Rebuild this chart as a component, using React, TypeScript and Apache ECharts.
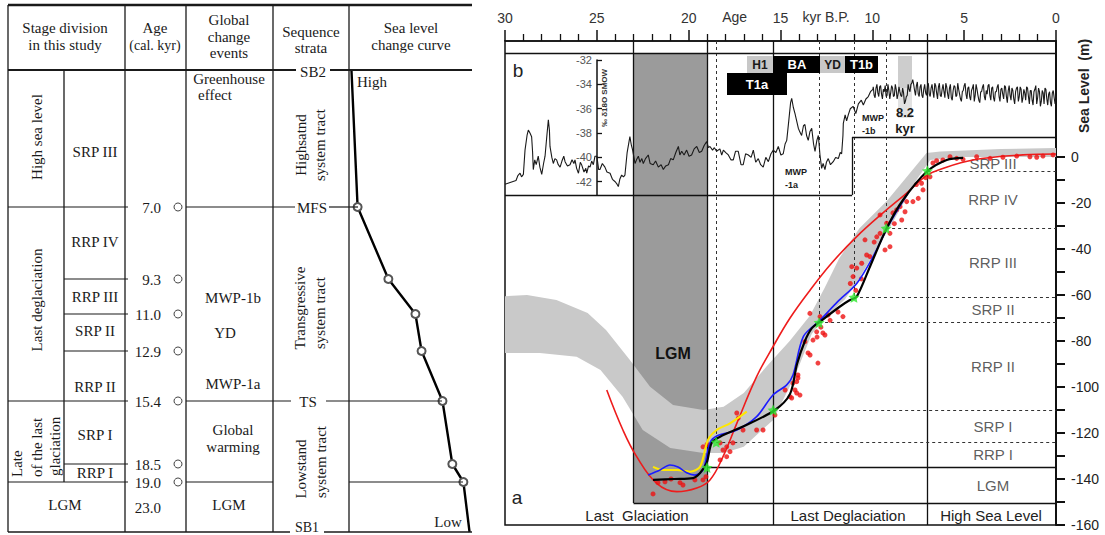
import React, { useEffect, useRef } from "react";
import * as echarts from "echarts";

const SERIF = "'Liberation Serif', 'Times New Roman', serif";
const SANS = "'Liberation Sans', Arial, Helvetica, sans-serif";
const ROT = Math.PI / 2;

// ================= Left panel: stage table =================
const tableAges = ["7.0", "9.3", "11.0", "12.9", "15.4", "18.5", "19.0"];
const curveStages = ["SB2", "7.0", "9.3", "11.0", "12.9", "15.4", "18.5", "19.0", "SB1"];
// relative sea level (1 = high, 0 = low) at each stage boundary
const curveLevel = [0.98, 0.93, 0.68, 0.46, 0.41, 0.24, 0.16, 0.07, 0.02];

// ================= Right panel data =================
const ageAxisLabels = [30, 25, 20, 15, 10, 5, 0];
const seaLevelLabels = [-160, -140, -120, -100, -80, -60, -40, -20, 0];
const seaLevelTicks = [-160, -150, -140, -130, -120, -110, -100, -90, -80, -70, -60, -50, -40, -30, -20, -10, 0];
const d18OLabels = [-42, -40, -38, -36, -34, -32];

// stage boundaries (kyr BP) and sea levels (m)
const boundaryAges = [7.0, 9.25, 11.0, 12.9, 15.4, 18.5, 19.0, 23.0];
const boundaryLevels = [-6, -31, -61, -72, -110, -124, -135, -150.4];
const stageNames = ["SRP III", "RRP IV", "RRP III", "SRP II", "RRP II", "SRP I", "RRP I", "LGM"];

// GISP2-like δ18O record [age kyr, ‰]
const d18O: [number, number][] = [
  [30.0, -42.2], [29.8, -42.1], [29.6, -42.0], [29.4, -41.9], [29.3, -41.5], [29.18, -41.3], [29.1, -41.6], [29.0, -41.4],
  [28.91, -39.4], [28.8, -38.2], [28.73, -37.75], [28.64, -38.0], [28.55, -38.3], [28.5, -39.5], [28.46, -41.0], [28.38, -40.2],
  [28.3, -40.6], [28.19, -39.9], [28.1, -40.8], [28.0, -41.4], [27.9, -40.5], [27.82, -39.9], [27.72, -38.2], [27.64, -36.9],
  [27.58, -37.8], [27.55, -39.1], [27.45, -40.0], [27.37, -40.5], [27.28, -40.1], [27.19, -40.2], [27.1, -40.6], [27.0, -40.8],
  [26.9, -40.3], [26.8, -39.9], [26.73, -40.35], [26.6, -40.7], [26.46, -40.6], [26.35, -40.2], [26.25, -40.5], [26.19, -40.2],
  [26.1, -40.9], [26.0, -41.3], [25.9, -40.4], [25.83, -40.6], [25.7, -41.2], [25.6, -40.9], [25.55, -41.3], [25.45, -40.7],
  [25.37, -40.8], [25.28, -40.3], [25.19, -40.6], [25.1, -39.9], [25.0, -39.9], [24.9, -41.0], [24.83, -41.0], [24.7, -40.5],
  [24.56, -40.8], [24.45, -41.2], [24.28, -41.3], [24.15, -41.8], [24.0, -42.0], [23.9, -42.2], [23.83, -42.4], [23.75, -41.8],
  [23.65, -41.45], [23.55, -41.6], [23.47, -41.45], [23.35, -39.6], [23.2, -38.3], [23.12, -39.0], [23.05, -39.4], [22.98, -40.0],
  [22.92, -40.5], [22.84, -40.2], [22.74, -39.9], [22.65, -40.4], [22.55, -40.1], [22.47, -40.5], [22.35, -40.1], [22.2, -39.8],
  [22.1, -40.5], [21.93, -40.6], [21.8, -40.3], [21.65, -40.8], [21.5, -40.6], [21.38, -41.0], [21.25, -40.7], [21.1, -40.6],
  [20.98, -40.1], [20.84, -40.2], [20.7, -39.6], [20.56, -39.1], [20.48, -39.8], [20.38, -39.5], [20.25, -39.8], [20.11, -39.4],
  [19.98, -39.9], [19.84, -39.8], [19.7, -39.3], [19.56, -39.1], [19.42, -39.6], [19.29, -39.5], [19.15, -39.0], [19.02, -38.7],
  [18.92, -39.2], [18.84, -39.1], [18.7, -39.4], [18.6, -39.2], [18.48, -39.5], [18.3, -39.3], [18.2, -39.8], [18.11, -39.4],
  [17.98, -39.6], [17.84, -39.8], [17.7, -40.2], [17.57, -40.2], [17.45, -39.5], [17.3, -39.5], [17.15, -40.6], [17.03, -40.6],
  [16.9, -39.7], [16.75, -39.8], [16.6, -40.0], [16.48, -39.4], [16.35, -40.4], [16.21, -40.1], [16.08, -40.6], [15.94, -40.8],
  [15.8, -40.0], [15.66, -40.35], [15.52, -39.7], [15.39, -39.4], [15.25, -39.6], [15.12, -39.1], [14.98, -39.8], [14.85, -39.7],
  [14.75, -38.9], [14.66, -38.6], [14.55, -37.0], [14.45, -35.5], [14.39, -35.15], [14.3, -35.9], [14.21, -36.4], [14.12, -37.0],
  [14.03, -37.6], [13.95, -37.9], [13.85, -38.2], [13.75, -37.4], [13.67, -37.3], [13.58, -38.2], [13.49, -38.6], [13.4, -37.9],
  [13.3, -37.6], [13.2, -38.9], [13.12, -39.5], [13.02, -38.6], [12.94, -38.2], [12.85, -39.8], [12.76, -40.9], [12.68, -40.5],
  [12.58, -41.0], [12.5, -40.4], [12.4, -40.1], [12.28, -40.6], [12.13, -40.35], [12.0, -40.0], [11.85, -40.1], [11.75, -39.6],
  [11.67, -39.7], [11.6, -38.2], [11.58, -37.2], [11.48, -36.5], [11.4, -37.0], [11.31, -36.5], [11.2, -36.0], [11.05, -35.8],
  [10.9, -36.4], [10.76, -35.6], [10.6, -35.3], [10.49, -35.7], [10.35, -35.2], [10.22, -35.0], [10.1, -34.6], [9.97, -34.4],
  [9.9, -34.9], [9.8, -34.3], [9.7, -34.7], [9.6, -34.2], [9.5, -34.8], [9.4, -34.4], [9.3, -34.1], [9.2, -34.9], [9.1, -34.5],
  [9.0, -34.7], [8.9, -34.3], [8.8, -34.9], [8.7, -34.4], [8.6, -34.8], [8.5, -34.6], [8.4, -35.0], [8.3, -34.7], [8.2, -35.4],
  [8.1, -34.9], [8.0, -34.4], [7.9, -34.0], [7.8, -33.6], [7.7, -34.5], [7.6, -34.1], [7.5, -34.8], [7.4, -34.2], [7.3, -34.9],
  [7.2, -34.4], [7.1, -34.7], [7.0, -34.1], [6.9, -34.8], [6.8, -34.3], [6.7, -34.6], [6.6, -33.9], [6.5, -34.7], [6.4, -34.2],
  [6.3, -34.9], [6.2, -34.4], [6.1, -34.6], [6.0, -33.9], [5.9, -34.8], [5.8, -34.3], [5.7, -35.1], [5.6, -34.5], [5.5, -34.2],
  [5.4, -34.9], [5.3, -34.4], [5.2, -35.2], [5.1, -34.6], [5.0, -34.1], [4.9, -34.8], [4.8, -34.3], [4.7, -35.0], [4.6, -34.5],
  [4.5, -34.0], [4.4, -34.9], [4.3, -34.4], [4.2, -35.3], [4.1, -34.6], [4.0, -34.2], [3.9, -35.0], [3.8, -34.5], [3.7, -34.1],
  [3.6, -34.9], [3.5, -34.3], [3.4, -35.1], [3.3, -34.6], [3.2, -34.2], [3.1, -35.0], [3.0, -34.4], [2.9, -34.8], [2.8, -34.1],
  [2.7, -35.0], [2.6, -34.5], [2.5, -34.9], [2.4, -34.3], [2.3, -35.2], [2.2, -34.6], [2.1, -34.2], [2.0, -35.0], [1.9, -34.4],
  [1.8, -35.1], [1.7, -34.7], [1.6, -34.2], [1.5, -35.0], [1.4, -34.5], [1.3, -35.3], [1.2, -34.6], [1.1, -34.1], [1.0, -35.1],
  [0.9, -34.6], [0.8, -35.4], [0.7, -34.7], [0.6, -34.3], [0.5, -35.2], [0.4, -34.8], [0.3, -35.5], [0.2, -34.7], [0.1, -35.1],
  [0.0, -34.9],
];
// additional high-resolution Holocene samples
const d18OHolocene: [number, number][] = [
  [9.95, -34.2], [9.85, -35.1], [9.75, -34.0], [9.65, -35.0], [9.55, -34.1], [9.45, -35.2], [9.35, -34.6], [9.25, -35.0],
  [9.15, -34.0], [9.05, -35.2], [8.95, -34.1], [8.85, -35.0], [8.75, -34.0], [8.65, -35.2], [8.55, -34.2], [8.45, -34.9],
  [8.35, -34.3], [8.25, -35.6], [8.15, -35.0], [8.05, -34.0], [7.95, -34.6], [7.85, -33.9], [7.75, -34.0], [7.65, -34.9],
  [7.55, -33.8], [7.45, -35.0], [7.35, -34.0], [7.25, -35.1], [7.15, -34.0], [7.05, -34.9], [6.95, -33.9], [6.85, -35.0],
  [6.75, -34.0], [6.65, -35.1], [6.55, -34.1], [6.45, -35.2], [6.35, -33.9], [6.25, -35.0], [6.15, -34.0], [6.05, -35.1],
  [5.95, -34.2], [5.85, -35.2], [5.75, -34.0], [5.65, -35.3], [5.55, -34.1], [5.45, -35.0], [5.35, -33.9], [5.25, -34.8],
  [5.15, -35.4], [5.05, -34.5], [4.95, -33.9], [4.85, -35.2], [4.75, -34.2], [4.65, -35.3], [4.55, -34.3], [4.45, -35.4],
  [4.35, -34.0], [4.25, -34.9], [4.15, -35.5], [4.05, -34.6], [3.95, -34.0], [3.85, -35.3], [3.75, -34.8], [3.65, -34.0],
  [3.55, -35.3], [3.45, -34.2], [3.35, -35.4], [3.25, -34.6], [3.15, -34.0], [3.05, -35.4], [2.95, -34.3], [2.85, -35.2],
  [2.75, -34.2], [2.65, -35.5], [2.55, -34.1], [2.45, -35.3], [2.35, -34.5], [2.25, -35.6], [2.15, -34.3], [2.05, -35.4],
  [1.95, -34.2], [1.85, -35.5], [1.75, -34.4], [1.65, -35.3], [1.55, -34.3], [1.45, -35.6], [1.35, -34.5], [1.25, -35.7],
  [1.15, -34.4], [1.05, -35.6], [0.95, -34.3], [0.85, -35.8], [0.75, -34.5], [0.65, -35.6], [0.55, -34.4], [0.45, -35.7],
  [0.35, -34.6], [0.25, -35.8], [0.15, -34.5], [0.05, -35.6],
];

// grey envelope of global sea-level records [age, m]
const bandUpper: [number, number][] = [
  [30, -60.5], [28.8, -60], [27.2, -62.2], [25.5, -67.8], [24.5, -75.2], [23.2, -88.3], [22.1, -99.9], [20.85, -107.8],
  [19.2, -110], [18.1, -108.6], [17.0, -102.6], [15.75, -91], [14.5, -80], [13.4, -69], [12.6, -57], [11.8, -44],
  [10.7, -31], [9.2, -19], [7.95, -7], [7.05, 1.7], [6.3, 2.4], [3.0, 3.5], [0, 3.9],
];
const bandLower: [number, number][] = [
  [30, -85.2], [28.1, -85.2], [26.1, -86.8], [24.8, -92.6], [23.6, -104.2], [22.5, -118.7], [21.0, -126.5], [19.2, -128.7],
  [18.1, -128.7], [17.0, -126], [15.4, -114.3], [14.2, -95], [13.3, -77], [12.6, -70], [11.5, -62], [10.8, -54],
  [10.0, -43], [9.0, -30], [7.6, -10], [6.85, -1.3], [5.2, 0], [0, 0],
];

// model sea-level curve (red line)
const modelCurve: [number, number][] = [
  [24.46, -101.3], [23.58, -118.7], [22.83, -130.3], [21.74, -141.9], [20.65, -145.5], [19.56, -143.9], [18.84, -140.4],
  [18.13, -130.3], [17.38, -115.8], [16.3, -95.5], [15.41, -82.5], [14.48, -70], [13.4, -58], [12.2, -46], [10.85, -34.6],
  [9.42, -24.3], [8.13, -15.7], [7.04, -8], [6.32, -5.4], [4.52, -1.3], [1.8, 0.9], [0, 1.3],
];
// this study (black line)
const studyCurve: [number, number][] = [
  [21.94, -140.4], [20.8, -140], [19.76, -139.6], [19.38, -137.4], [19.02, -133], [18.75, -124.3], [18.29, -121.6],
  [17.04, -117.2], [15.3, -110], [14.48, -103], [14.1, -90], [13.67, -80], [13.3, -74.5], [12.85, -71.6], [11.76, -65],
  [11.22, -62.2], [10.85, -60.7], [10.13, -47.7], [9.22, -31], [8.33, -18.7], [7.04, -6.4], [5.95, -1.3], [5.06, -0.4],
];
const blueCurve: [number, number][] = [
  [22.21, -138.3], [21.56, -136.1], [21.02, -133.9], [20.58, -134.8], [20.11, -137.3], [19.66, -138.3], [19.22, -136.1],
  [18.84, -124.3], [18.47, -121.3], [17.38, -118.7], [16.3, -112.9], [15.41, -103.5], [14.66, -99.1], [14.32, -94.8],
  [13.75, -78], [12.85, -71], [11.9, -63], [10.85, -55], [9.96, -43.3], [9.05, -28.8], [8.07, -15.8],
];
const yellowCurve: [number, number][] = [
  [21.94, -134.7], [21.4, -136.1], [20.64, -136.1], [19.93, -136.8], [19.38, -134.7], [18.95, -123], [18.47, -118.7],
  [17.75, -115.8], [16.84, -110.7],
];
// sea-level indicators (red dots)
const rslPoints: [number, number][] = [
  [21.94, -146.5], [21.67, -141.6], [21.29, -141.2], [20.96, -140], [20.47, -141.6], [20.31, -142.6], [19.66, -140.4],
  [19.22, -140.4], [19.06, -139], [18.29, -131.7], [18.13, -127.4], [19.22, -126], [19.0, -125], [18.29, -124.3],
  [17.93, -126], [17.59, -124.3], [17.75, -128.1], [17.93, -130.3], [17.38, -111.3], [17.3, -113.5], [17.04, -118.7],
  [16.3, -118.7], [15.95, -118.7], [15.3, -112.2], [14.75, -101.3], [14.39, -104.8], [14.21, -101.3], [14.12, -97.7],
  [14.05, -94.8], [13.67, -80.3], [13.5, -85.2], [14.32, -98.3], [14.12, -102.6], [14.48, -104.2], [14.05, -96.1],
  [13.39, -86.1], [12.96, -89.6], [13.23, -79.6], [13.01, -78.3], [12.58, -77.4], [13.94, -103.5], [13.03, -76],
  [12.69, -76.5], [12.85, -69.4], [12.41, -68.7], [11.6, -69.4], [11.87, -67.4], [11.2, -55], [10.9, -58], [10.6, -53],
  [11.05, -52], [11.12, -47.7], [10.85, -48.3], [10.58, -46.2], [10.31, -42.6], [10.13, -43.3], [9.76, -34.7],
  [9.58, -33.2], [9.31, -40.4], [9.04, -39], [9.22, -28.8], [9.04, -33.2], [8.88, -24.3], [8.68, -23], [8.49, -21.6],
  [8.4, -27.4], [8.22, -23.8], [8.13, -19.4], [7.79, -19.4], [7.5, -18], [7.24, -14.3], [7.32, -11.4], [6.86, -8.6],
  [6.7, -2.6], [6.5, -1.6], [6.16, -1.3], [5.77, 0.1], [5.41, -0.6], [5.06, -1.0], [4.32, 0.1], [3.59, -0.6], [2.89, -0.1],
  [2.14, 0.4], [1.42, 0.1], [1.05, -0.1], [0.71, 0.4], [0.16, 0.9], [9.58, -25.2], [10.4, -36], [9.9, -37], [8.8, -29],
  [12.3, -71], [13.4, -68], [12.8, -74], [7.6, -12], [7.1, -9],
];

// ================= layout constants (pixels / frame) =================
const G = { left: 505, top: 41, width: 551, height: 484 };
const Y_MAX = 50.43; // top of frame in metres
const INSET_TOP = 45.2; // inset frame top in metres
const INSET_BOTTOM = -16.5;
const INSET_STEP_AGE = 11.1;
const INSET_STEP_LEVEL = 8.7;
const LABEL_AGE = 3.43;

function T(text: string, x: number, y: number, o: any = {}) {
  return {
    type: "text",
    x,
    y,
    z: o.z ?? 60,
    silent: true,
    rotation: o.rot ?? 0,
    style: {
      text,
      fill: o.fill ?? "#1a1a1a",
      font: `${o.weight ?? "normal"} ${o.size ?? 15}px ${o.family ?? SERIF}`,
      textAlign: o.align ?? "center",
      textVerticalAlign: "middle",
    },
  };
}
function L(x1: number, y1: number, x2: number, y2: number, w = 1.2, color = "#1a1a1a") {
  return { type: "line", z: 55, silent: true, shape: { x1, y1, x2, y2 }, style: { stroke: color, lineWidth: w } };
}
function R(x: number, y: number, w: number, h: number, fill: string, z = 58) {
  return { type: "rect", z, silent: true, shape: { x, y, width: w, height: h }, style: { fill } };
}

function buildOption() {
  // ---------- left table graphics ----------
  const rowY = [70, 207, 279, 314, 351, 401, 464, 482, 532];
  const g: any[] = [];
  g.push(L(8, 5, 472, 5, 2.6));
  g.push(L(8, 70, 296, 70, 2), L(330, 70, 472, 70, 2));
  [8, 125, 186, 273, 349].forEach((x) => g.push(L(x, 5, x, 532, 1.3)));
  g.push(L(64, 70, 64, 482, 1.3));
  g.push(L(8, 532, 290, 532, 1.6), L(324, 532, 472, 532, 1.6));
  g.push(L(8, 207, 128, 207), L(186, 207, 295, 207), L(329, 207, 358, 207));
  g.push(L(64, 279, 128, 279), L(64, 314, 128, 314), L(64, 351, 128, 351));
  g.push(L(8, 401, 128, 401), L(186, 401, 291, 401), L(326, 401, 442, 401));
  g.push(L(64, 464, 128, 464));
  g.push(L(8, 482, 128, 482), L(186, 482, 273, 482), L(349, 482, 463, 482));
  g.push(
    T("Stage division", 65, 28), T("in this study", 65, 45),
    T("Age", 155, 28), T("(cal. kyr)", 155, 45, { size: 14 }),
    T("Global", 229, 20), T("change", 229, 37), T("events", 229, 53),
    T("Sequence", 311, 32), T("strata", 311, 48),
    T("Sea level", 411, 28), T("change curve", 411, 45)
  );
  g.push(
    T("Greenhouse", 229, 79), T("effect", 198, 95, { align: "left" }), T("SB2", 313, 72), T("High", 357, 82, { align: "left" }),
    T("High sea level", 37, 137, { rot: ROT }), T("SRP III", 95, 152),
    T("Highsatnd", 301, 145, { rot: ROT }), T("system tract", 320, 145, { rot: ROT }),
    T("MFS", 312, 208),
    T("RRP IV", 95, 242), T("RRP III", 95, 297), T("SRP II", 95, 331), T("MWP-1b", 233, 298), T("YD", 225, 333),
    T("Last deglaciation", 37, 300, { rot: ROT }), T("Transgressive", 300, 308, { rot: ROT }), T("system tract", 320, 313, { rot: ROT }),
    T("RRP II", 95, 387), T("MWP-1a", 233, 384), T("TS", 308, 402),
    T("SRP I", 95, 435), T("Global", 233, 430), T("warming", 233, 447), T("RRP I", 95, 473),
    T("Late", 17, 477, { rot: ROT, align: "left" }), T("of the last", 37, 477, { rot: ROT, align: "left" }),
    T("glaciation", 55, 476, { rot: ROT, align: "left" }),
    T("LGM", 65, 505), T("23.0", 161, 508, { align: "right" }), T("LGM", 229, 505),
    T("Lowstand", 301, 469, { rot: ROT }), T("system tract", 321, 462, { rot: ROT }),
    T("SB1", 307, 527, { size: 14 }), T("Low", 448, 522)
  );
  tableAges.forEach((a, i) => {
    const y = rowY[i + 1];
    g.push(T(a, 161, y + 1, { align: "right" }));
    g.push({ type: "circle", z: 60, silent: true, shape: { cx: 178, cy: y, r: 4 }, style: { fill: "#fff", stroke: "#444", lineWidth: 1 } });
  });

  // ---------- right panel graphics ----------
  g.push(
    T("Age", 734.6, 17, { family: SANS, size: 14, fill: "#333" }),
    T("kyr B.P.", 826, 17, { family: SANS, size: 14, fill: "#333" }),
    T("Sea Level  (m)", 1084, 86, { family: SANS, size: 14, weight: "bold", rot: ROT, fill: "#222" }),
    T("b", 518, 70, { family: SANS, size: 19, fill: "#222" }),
    T("a", 517, 497, { family: SANS, size: 19, fill: "#222" }),
    T("LGM", 673, 353, { family: SANS, size: 16, weight: "bold", fill: "#111" }),
    T("Last  Glaciation", 637, 515, { family: SANS, size: 15, fill: "#222" }),
    T("Last Deglaciation", 848, 515, { family: SANS, size: 15, fill: "#222" }),
    T("High Sea Level", 991, 515, { family: SANS, size: 15, fill: "#222" })
  );
  g.push(
    R(747, 56, 26, 17, "#c8c8c8"), T("H1", 760, 64.5, { family: SANS, size: 12, weight: "bold" }),
    R(773, 56, 47, 17, "#000"), T("BA", 797, 64.5, { family: SANS, size: 13, weight: "bold", fill: "#fff" }),
    R(727, 73, 60, 22, "#000"), T("T1a", 757, 84, { family: SANS, size: 13, weight: "bold", fill: "#fff" }),
    R(820, 56, 25, 17, "#c8c8c8"), T("YD", 832.5, 64.5, { family: SANS, size: 12, weight: "bold" }),
    R(845, 56, 33, 17, "#000"), T("T1b", 861.5, 64.5, { family: SANS, size: 13, weight: "bold", fill: "#fff" }),
    R(898, 56, 14, 32, "#cdcdcd", 1), R(898, 88, 14, 30, "#e2e2e2", 1),
    T("8.2", 905, 112, { family: SANS, size: 13, weight: "bold" }),
    T("kyr", 905, 128, { family: SANS, size: 13, weight: "bold" }),
    T("MWP", 862, 118, { family: SANS, size: 9, weight: "bold", align: "left" }),
    T("-1b", 862, 131, { family: SANS, size: 9, weight: "bold", align: "left" }),
    T("MWP", 785, 172, { family: SANS, size: 9, weight: "bold", align: "left" }),
    T("-1a", 785, 185, { family: SANS, size: 9, weight: "bold", align: "left" }),
    T("‰ δ18O SMOW", 604, 98, { family: SANS, size: 8, weight: "bold", rot: ROT, fill: "#333" })
  );

  // ---------- mark lines (stage boundaries, inset frame) ----------
  const solid = { color: "#111", width: 1.3, type: "solid" };
  const dashed = { color: "#333", width: 1, type: [3, 3] };
  const lgmBottom = boundaryLevels[boundaryLevels.length - 1];
  const ml: any[] = [];
  boundaryAges.forEach((a, i) => {
    const lvl = boundaryLevels[i];
    const hSolid = a >= 19;
    ml.push([{ coord: [a, lvl], lineStyle: hSolid ? solid : dashed }, { coord: [0, lvl] }]);
    const full = a === 7.0 || a === 15.4;
    const vSolid = full || a >= 19;
    const end = full ? -160 : a >= 19 ? lgmBottom : lvl;
    ml.push([{ coord: [a, Y_MAX], lineStyle: vSolid ? solid : dashed }, { coord: [a, end] }]);
  });
  ml.push([{ coord: [30, INSET_TOP], lineStyle: solid }, { coord: [0, INSET_TOP] }]);
  ml.push([{ coord: [30, INSET_BOTTOM], lineStyle: solid }, { coord: [INSET_STEP_AGE, INSET_BOTTOM] }]);
  ml.push([{ coord: [INSET_STEP_AGE, INSET_BOTTOM], lineStyle: solid }, { coord: [INSET_STEP_AGE, INSET_STEP_LEVEL] }]);
  ml.push([{ coord: [INSET_STEP_AGE, INSET_STEP_LEVEL], lineStyle: solid }, { coord: [0, INSET_STEP_LEVEL] }]);

  const tops = [0, ...boundaryLevels];
  const stageLabelData = stageNames.map((n, i) => [LABEL_AGE, (tops[i] + tops[i + 1]) / 2, n]);
  const stars = boundaryAges.slice(0, 7).map((a, i) => [a, boundaryLevels[i]]);
  const d18OAll = [...d18O, ...d18OHolocene].sort((p, q) => q[0] - p[0]);

  const hiddenX = (gi: number, extra: any = {}) => ({ type: "value", gridIndex: gi, show: false, ...extra });

  return {
    animation: false,
    backgroundColor: "#fff",
    textStyle: { fontFamily: SANS },
    grid: [
      { ...G, show: true, borderColor: "#111", borderWidth: 1.5, backgroundColor: "transparent" },
      { left: G.left, top: 53, width: G.width, height: 142 },
      { left: 597, top: 60, width: 40, height: 135 },
      { left: 349, top: 70, width: 123, height: 462 },
    ],
    xAxis: [
      {
        type: "value", gridIndex: 0, min: 0, max: 30, interval: 5, inverse: true, position: "top",
        axisLine: { show: true, onZero: false, lineStyle: { color: "#111", width: 1.5 } },
        axisTick: { show: true, inside: false, length: 11, lineStyle: { color: "#111", width: 1.5 } },
        minorTick: { show: true, splitNumber: 5, length: 7, lineStyle: { color: "#111", width: 1.3 } },
        axisLabel: { show: true, margin: 16, fontSize: 14, color: "#333", fontFamily: SANS, customValues: ageAxisLabels },
        splitLine: { show: false },
        minorSplitLine: { show: false },
      },
      hiddenX(1, { min: 0, max: 30, inverse: true }),
      hiddenX(2, { min: 0, max: 1 }),
      hiddenX(3, { min: 0, max: 1, inverse: true }),
    ],
    yAxis: [
      {
        type: "value", gridIndex: 0, min: -160, max: Y_MAX, position: "right",
        axisLine: { show: true, onZero: false, lineStyle: { color: "#111", width: 2 } },
        axisTick: { show: true, inside: false, length: 9, customValues: seaLevelTicks, lineStyle: { color: "#111", width: 2 } },
        axisLabel: { show: true, customValues: seaLevelLabels, margin: 15, fontSize: 14, color: "#222", fontFamily: SANS },
        splitLine: { show: false },
      },
      { type: "value", gridIndex: 1, min: -43.09, max: -31.42, show: false },
      {
        type: "value", gridIndex: 2, min: -43.09, max: -32, position: "left",
        axisLine: { show: true, onZero: false, lineStyle: { color: "#111", width: 1.5 } },
        axisTick: { show: true, inside: true, length: 5, customValues: d18OLabels, lineStyle: { color: "#111", width: 1.3 } },
        axisLabel: { show: true, customValues: d18OLabels, margin: 5, fontSize: 11, color: "#555", fontFamily: SANS },
        splitLine: { show: false },
      },
      { type: "value", gridIndex: 3, min: 0, max: 462, inverse: true, show: false },
    ],
    graphic: g,
    series: [
      {
        type: "line", xAxisIndex: 0, yAxisIndex: 0, z: 1, silent: true, data: [[0, -160]], symbol: "none",
        lineStyle: { opacity: 0 },
        markArea: { silent: true, itemStyle: { color: "#9b9b9b" }, data: [[{ coord: [23, lgmBottom] }, { coord: [19, INSET_TOP] }]] },
      },
      {
        type: "custom", xAxisIndex: 0, yAxisIndex: 0, z: 2, silent: true, data: [[0, 0]],
        renderItem: (params: any, api: any) => {
          const pts = bandUpper.map((p) => api.coord(p));
          for (let i = bandLower.length - 1; i >= 0; i--) pts.push(api.coord(bandLower[i]));
          return { type: "polygon", shape: { points: pts }, style: { fill: "#c9c9c9" } };
        },
      },
      {
        type: "scatter", xAxisIndex: 0, yAxisIndex: 0, z: 3, silent: true, symbolSize: 1,
        itemStyle: { color: "transparent" }, data: stageLabelData,
        label: { show: true, position: "inside", formatter: (p: any) => p.data[2], fontSize: 15, color: "#333", fontFamily: SANS },
      },
      {
        type: "line", xAxisIndex: 0, yAxisIndex: 0, z: 4, silent: true, data: [[0, -160]], symbol: "none",
        lineStyle: { opacity: 0 },
        markLine: { silent: true, symbol: ["none", "none"], label: { show: false }, data: ml },
      },
      {
        type: "line", xAxisIndex: 1, yAxisIndex: 1, z: 5, silent: true, data: d18OAll, symbol: "none",
        lineStyle: { color: "#1a1a1a", width: 1.1 },
      },
      {
        type: "line", xAxisIndex: 0, yAxisIndex: 0, z: 5, silent: true, data: modelCurve, symbol: "none", smooth: 0.4,
        lineStyle: { color: "#ee1c1c", width: 1.6 },
      },
      {
        type: "scatter", xAxisIndex: 0, yAxisIndex: 0, z: 6, silent: true, data: rslPoints, symbolSize: 5,
        itemStyle: { color: "#ee1111" },
      },
      {
        type: "line", xAxisIndex: 0, yAxisIndex: 0, z: 7, silent: true, data: yellowCurve, symbol: "none", smooth: 0.3,
        lineStyle: { color: "#ffe800", width: 2 },
      },
      {
        type: "line", xAxisIndex: 0, yAxisIndex: 0, z: 7, silent: true, data: blueCurve, symbol: "none", smooth: 0.3,
        lineStyle: { color: "#1c1cff", width: 1.6 },
      },
      {
        type: "line", xAxisIndex: 0, yAxisIndex: 0, z: 8, silent: true, data: studyCurve, symbol: "none", smooth: 0.3,
        lineStyle: { color: "#000", width: 2.2 },
      },
      {
        type: "scatter", xAxisIndex: 0, yAxisIndex: 0, z: 9, silent: true, data: stars, symbolSize: 11,
        symbol: "path://M0,-10L2.9,-4L9.5,-3.1L4.7,1.5L5.9,8.1L0,5L-5.9,8.1L-4.7,1.5L-9.5,-3.1L-2.9,-4Z",
        itemStyle: { color: "#2ee82e" },
      },
      {
        type: "line", xAxisIndex: 3, yAxisIndex: 3, z: 5, silent: true,
        data: curveLevel.map((v, i) => ({
          value: [v, rowY[i] - rowY[0]],
          name: curveStages[i],
          symbol: i === 0 || i === curveLevel.length - 1 ? "none" : "emptyCircle",
        })),
        symbolSize: 8,
        itemStyle: { color: "#555", borderWidth: 1 },
        lineStyle: { color: "#000", width: 2.4 },
      },
    ],
  };
}

export default function App() {
  const ref = useRef<HTMLDivElement>(null);
  useEffect(() => {
    const chart = echarts.init(ref.current!, null, { renderer: "svg" });
    chart.setOption(buildOption() as any);
    return () => chart.dispose();
  }, []);
  return (
    <div
      ref={ref}
      style={{ position: "fixed", left: 0, top: 0, width: 1105, height: 535, background: "#fff" }}
    />
  );
}
